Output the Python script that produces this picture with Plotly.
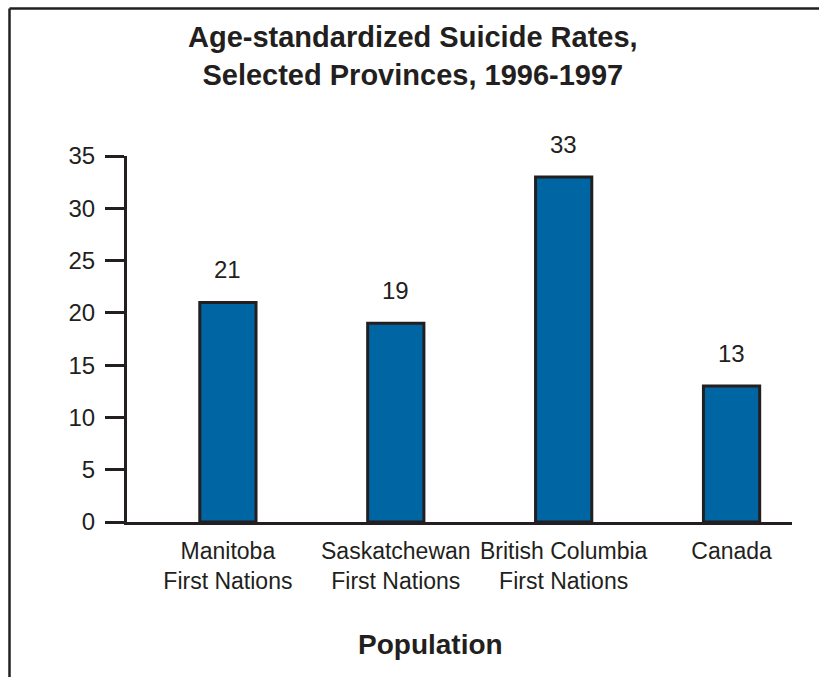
import plotly.graph_objects as go

categories = ["Manitoba<br>First Nations", "Saskatchewan<br>First Nations",
              "British Columbia<br>First Nations", "Canada"]
rates = [21, 19, 33, 13]
y_ticks = [0, 5, 10, 15, 20, 25, 30, 35]

title_text = "<b>Age-standardized Suicide Rates,<br>Selected Provinces, 1996-1997</b>"
x_title = "<b>Population</b>"

W, H = 819, 677
ML, MR, MT, MB = 127, 27, 156, 155
pw = W - ML - MR
ph = H - MT - MB

DARK = "#231f20"
BLUE = "#0065a3"
FONT = "Liberation Sans, Arial, sans-serif"

def px_x(p):
    return (p - ML) / pw

def px_y(p):
    return (H - MB - p) / ph

fig = go.Figure()
fig.add_trace(go.Bar(
    x=categories, y=rates, width=0.335,
    marker=dict(color=BLUE, line=dict(color=DARK, width=3)),
    hoverinfo="skip",
))

annotations = []
for c, v in zip(categories, rates):
    annotations.append(dict(
        x=c, y=v, xref="x", yref="y", text=str(v), showarrow=False,
        yanchor="bottom", yshift=17,
        font=dict(family=FONT, size=24, color=DARK),
    ))
annotations.append(dict(
    x=px_x(430), y=px_y(662), xref="paper", yref="paper", text=x_title,
    showarrow=False, xanchor="center", yanchor="bottom",
    font=dict(family=FONT, size=28, color=DARK),
))
annotations.append(dict(
    x=px_x(413), y=px_y(19), xref="paper", yref="paper", text=title_text,
    showarrow=False, xanchor="center", yanchor="top",
    font=dict(family=FONT, size=29, color=DARK),
))

shapes = [
    dict(type="line", xref="paper", yref="paper",
         x0=px_x(9.5), x1=px_x(830), y0=px_y(8.5), y1=px_y(8.5),
         line=dict(color=DARK, width=2.5)),
    dict(type="line", xref="paper", yref="paper",
         x0=px_x(9.5), x1=px_x(9.5), y0=px_y(8.5), y1=px_y(690),
         line=dict(color=DARK, width=2.5)),
]

fig.update_layout(
    width=W, height=H,
    margin=dict(l=ML, r=MR, t=MT, b=MB, pad=0),
    paper_bgcolor="white", plot_bgcolor="white",
    showlegend=False,
    font=dict(family=FONT, size=23, color=DARK),
    annotations=annotations,
    shapes=shapes,
    xaxis=dict(
        type="category", range=[-0.601, 3.36],
        showline=True, linecolor=DARK, linewidth=3,
        ticks="", showgrid=False, zeroline=False,
        tickfont=dict(family=FONT, size=23, color=DARK),
        ticklabelstandoff=6,
    ),
    yaxis=dict(
        range=[0, 35], tickvals=y_ticks, ticktext=[str(t) for t in y_ticks],
        showline=True, linecolor=DARK, linewidth=3,
        ticks="outside", ticklen=19, tickwidth=3, tickcolor=DARK,
        showgrid=False, zeroline=False,
        tickfont=dict(family=FONT, size=24, color=DARK),
        ticklabelstandoff=5,
    ),
)

fig.write_html("out.html")
